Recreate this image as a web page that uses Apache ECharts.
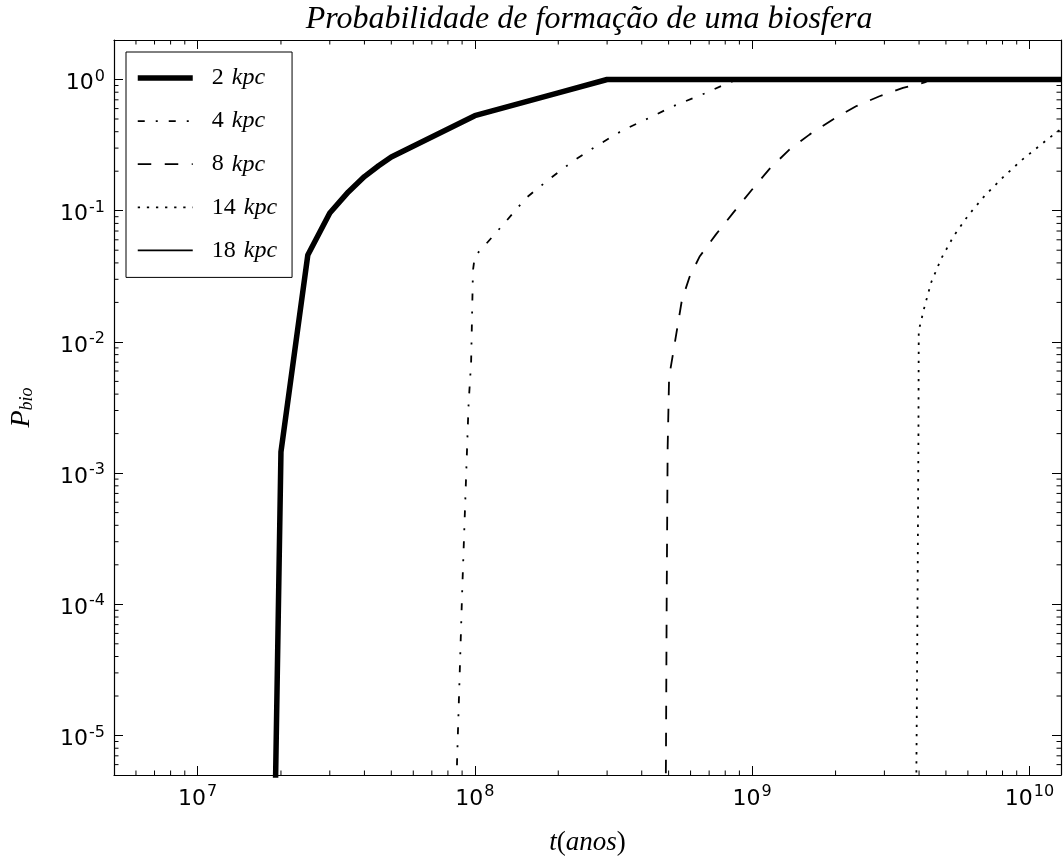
<!DOCTYPE html>
<html>
<head>
<meta charset="utf-8">
<script src="https://cdn.jsdelivr.net/npm/echarts@6/dist/echarts.min.js"></script>
<style>
  html, body { margin: 0; padding: 0; background: #fff; }
  #chart { width: 1064px; height: 861px; }
</style>
</head>
<body>
<div id="chart"></div>
<script>
// Probability of biosphere formation vs. time, for several galactocentric radii
const seriesNames = ['2 kpc', '4 kpc', '8 kpc', '14 kpc', '18 kpc'];

const t2 = [1.9e7, 2.0e7, 2.5e7, 3.0e7, 3.5e7, 4.0e7, 4.5e7, 5.0e7, 1.0e8, 2.0e8, 3.0e8, 1.3e10];
const p2 = [2e-6, 1.45e-3, 0.046, 0.096, 0.139, 0.182, 0.22, 0.257, 0.53, 0.79, 1.0, 1.0];

const t4 = [8.55e7, 8.63e7, 9.0e7, 9.5e7, 9.7e7, 9.85e7, 1.0e8, 1.1e8, 1.29e8, 1.53e8, 1.83e8, 2.25e8, 2.73e8, 3.41e8, 4.26e8, 5.17e8, 6.82e8, 8.28e8, 8.9e8, 1.3e10];
const p4 = [2e-6, 6.3e-6, 1.2e-4, 3.4e-3, 7e-3, 0.035, 0.045, 0.056, 0.082, 0.125, 0.17, 0.237, 0.309, 0.41, 0.51, 0.624, 0.79, 0.95, 1.0, 1.0];

const t8 = [4.87e8, 4.89e8, 4.92e8, 4.96e8, 5.02e8, 5.2e8, 5.39e8, 5.58e8, 5.94e8, 6.46e8, 7.41e8, 8.5e8, 1.0e9, 1.16e9, 1.36e9, 1.61e9, 1.95e9, 2.37e9, 2.88e9, 3.5e9, 4.19e9, 4.4e9, 1.3e10];
const p8 = [2e-6, 6.3e-6, 1.05e-4, 1.56e-3, 5.4e-3, 8.4e-3, 0.0133, 0.0207, 0.031, 0.0445, 0.066, 0.095, 0.145, 0.21, 0.291, 0.38, 0.494, 0.625, 0.745, 0.864, 0.95, 1.0, 1.0];

const t14 = [3.9e9, 3.95e9, 3.98e9, 3.99e9, 4.19e9, 4.43e9, 4.81e9, 5.33e9, 6.03e9, 6.92e9, 8.04e9, 9.38e9, 1.107e10, 1.233e10, 1.3e10];
const p14 = [2e-6, 1.05e-4, 2e-3, 0.0122, 0.0187, 0.0286, 0.0432, 0.064, 0.0927, 0.131, 0.18, 0.243, 0.322, 0.386, 0.42];

// 18 kpc: no points fall inside the plotted time range
const t18 = [];
const p18 = [];

// axis ranges and tick positions
const xRange = [5e6, 1.3e10];
const yRange = [5e-6, 2];
const xDecades = [6, 7, 8, 9, 10];
const yDecades = [-6, -5, -4, -3, -2, -1, 0];
const minorMultipliers = [2, 3, 4, 5, 6, 7, 8, 9];

// line style per series: width and dash pattern
const lineStyles = [
  { color: '#000', width: 5.5, type: 'solid', join: 'round' },
  { color: '#000', width: 1.8, type: [7, 11, 2, 11] },
  { color: '#000', width: 1.8, type: [13.5, 13.5] },
  { color: '#000', width: 1.8, type: [2.3, 6.8] },
  { color: '#000', width: 1.8, type: 'solid' }
];

const zip = (xs, ys) => xs.map((x, i) => [x, ys[i]]);

const minorTickData = [];
xDecades.forEach(d => minorMultipliers.forEach(m => {
  const v = m * Math.pow(10, d);
  if (v > xRange[0] && v < xRange[1]) minorTickData.push([v, 1, 0]);
}));
yDecades.forEach(d => minorMultipliers.forEach(m => {
  const v = m * Math.pow(10, d);
  if (v > yRange[0] && v < yRange[1]) minorTickData.push([1e8, v, 1]);
}));

const serifFont = 'Liberation Serif';
const sansFont = 'DejaVu Sans';

function powLabel(value) {
  const e = Math.round(Math.log10(value));
  if (Math.abs(Math.log10(value) - e) > 1e-6) return '';
  return '{b|10}{s|' + e + '}';
}
const powRich = {
  b: { fontFamily: sansFont, fontSize: 22, color: '#000', lineHeight: 22, padding: [8, 0, 0, 0] },
  s: { fontFamily: sansFont, fontSize: 16, color: '#000', lineHeight: 16, verticalAlign: 'top', padding: [0, 0, 0, 1] }
};

const MAJOR = 9, MINOR = 4.5;
const frameLine = { show: true, lineStyle: { color: '#000', width: 1.2 } };
const majorTick = { show: true, inside: true, length: MAJOR, lineStyle: { color: '#000', width: 1 } };

const chart = echarts.init(document.getElementById('chart'), null, { renderer: 'canvas' });

const lineBase = { type: 'line', symbol: 'none', showSymbol: false, clip: true, animation: false, xAxisIndex: 0, yAxisIndex: 0, color: '#000' };

const hiddenSymbol = { color: 'rgba(0,0,0,0)', borderWidth: 0, opacity: 0 };

chart.setOption({
  backgroundColor: '#fff',
  animation: false,
  grid: { left: 114, top: 40, right: 2, bottom: 86, containLabel: false },
  graphic: [{
    type: 'text',
    x: 589, y: 20,
    style: {
      text: 'Probabilidade de formação de uma biosfera',
      font: 'italic 32px "' + serifFont + '"',
      fill: '#000',
      textAlign: 'center',
      textVerticalAlign: 'middle'
    }
  }],
  legend: {
    data: seriesNames.map((name, i) => ({ name: name, lineStyle: lineStyles[i], itemStyle: hiddenSymbol })),
    orient: 'vertical',
    left: 126, top: 52,
    itemWidth: 55, itemHeight: 20, itemGap: 19.1,
    padding: [14, 15, 15, 9],
    borderColor: '#000', borderWidth: 1, borderRadius: 0,
    backgroundColor: '#fff',
    selectedMode: false,
    itemStyle: hiddenSymbol,
    formatter: name => {
      const parts = name.split(' ');
      return '{n|' + parts[0] + '}{g|}{u|' + parts[1] + '}';
    },
    textStyle: {
      padding: [0, 0, 0, 14],
      rich: {
        n: { fontFamily: serifFont, fontSize: 24, color: '#000' },
        g: { width: 8 },
        u: { fontFamily: serifFont, fontSize: 24, fontStyle: 'italic', color: '#000' }
      }
    }
  },
  xAxis: [{
    type: 'log', logBase: 10, min: xRange[0], max: xRange[1], position: 'bottom',
    axisLine: frameLine, axisTick: majorTick, splitLine: { show: false },
    axisLabel: { formatter: powLabel, rich: powRich, margin: 9, hideOverlap: false },
    name: '{i|t}{n|(}{i|anos}{n|)}', nameLocation: 'middle', nameGap: 54,
    nameTextStyle: {
      rich: {
        i: { fontFamily: serifFont, fontSize: 27, fontStyle: 'italic', color: '#000' },
        n: { fontFamily: serifFont, fontSize: 27, color: '#000' }
      }
    }
  }, {
    type: 'log', logBase: 10, min: xRange[0], max: xRange[1], position: 'top',
    axisLine: frameLine, axisTick: majorTick, splitLine: { show: false },
    axisLabel: { show: false }
  }],
  yAxis: [{
    type: 'log', logBase: 10, min: yRange[0], max: yRange[1], position: 'left',
    axisLine: frameLine, axisTick: majorTick, splitLine: { show: false },
    axisLabel: { formatter: powLabel, rich: powRich, margin: 9, hideOverlap: false },
    name: '{p|P}{s|bio}', nameLocation: 'middle', nameGap: 78, nameRotate: 90,
    nameTextStyle: {
      rich: {
        p: { fontFamily: serifFont, fontSize: 28, fontStyle: 'italic', color: '#000', lineHeight: 28 },
        s: { fontFamily: serifFont, fontSize: 18, fontStyle: 'italic', color: '#000', lineHeight: 18, verticalAlign: 'bottom' }
      }
    }
  }, {
    type: 'log', logBase: 10, min: yRange[0], max: yRange[1], position: 'right',
    axisLine: frameLine, axisTick: majorTick, splitLine: { show: false },
    axisLabel: { show: false }
  }],
  series: [
    Object.assign({}, lineBase, { name: seriesNames[0], data: zip(t2, p2), lineStyle: lineStyles[0] }),
    Object.assign({}, lineBase, { name: seriesNames[1], data: zip(t4, p4), lineStyle: lineStyles[1] }),
    Object.assign({}, lineBase, { name: seriesNames[2], data: zip(t8, p8), lineStyle: lineStyles[2] }),
    Object.assign({}, lineBase, { name: seriesNames[3], data: zip(t14, p14), lineStyle: lineStyles[3] }),
    Object.assign({}, lineBase, { name: seriesNames[4], data: zip(t18, p18), lineStyle: lineStyles[4] }),
    {
      // minor log ticks on all four sides of the frame
      type: 'custom', name: 'minorTicks', silent: true, clip: false, z: 5,
      xAxisIndex: 0, yAxisIndex: 0,
      data: minorTickData,
      renderItem: function (params, api) {
        const kind = api.value(2);
        const stroke = { stroke: '#000', lineWidth: 1 };
        if (kind === 0) {
          const v = api.value(0);
          const b = api.coord([v, yRange[0]]);
          const t = api.coord([v, yRange[1]]);
          return { type: 'group', children: [
            { type: 'line', shape: { x1: b[0], y1: b[1], x2: b[0], y2: b[1] - MINOR }, style: stroke },
            { type: 'line', shape: { x1: t[0], y1: t[1], x2: t[0], y2: t[1] + MINOR }, style: stroke }
          ] };
        }
        const v = api.value(1);
        const l = api.coord([xRange[0], v]);
        const r = api.coord([xRange[1], v]);
        return { type: 'group', children: [
          { type: 'line', shape: { x1: l[0], y1: l[1], x2: l[0] + MINOR, y2: l[1] }, style: stroke },
          { type: 'line', shape: { x1: r[0], y1: r[1], x2: r[0] - MINOR, y2: r[1] }, style: stroke }
        ] };
      }
    }
  ]
});
</script>
</body>
</html>
